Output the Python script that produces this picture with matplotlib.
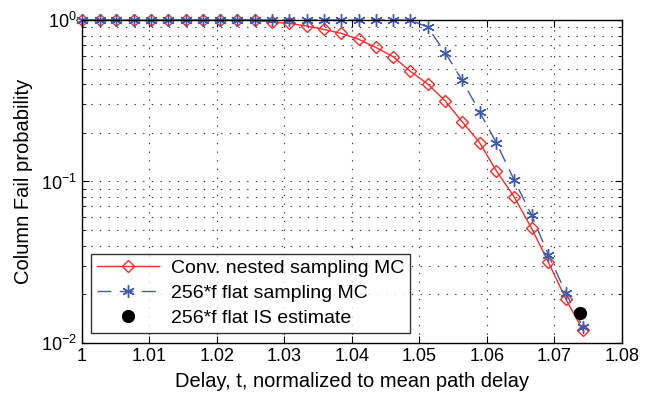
import matplotlib
matplotlib.use("Agg")
import matplotlib.pyplot as plt
from matplotlib.ticker import LogLocator, NullFormatter

plt.rcParams['font.family'] = ['Liberation Sans', 'DejaVu Sans']

# delay values, normalized to mean path delay
delay = [1.0000, 1.0026, 1.0051, 1.0077, 1.0102, 1.0128, 1.0154, 1.0179,
         1.0205, 1.0230, 1.0256, 1.0282, 1.0307, 1.0333, 1.0358, 1.0384,
         1.0410, 1.0435, 1.0461, 1.0486, 1.0512, 1.0538, 1.0563, 1.0589,
         1.0614, 1.0640, 1.0666, 1.0691, 1.0717, 1.0742]

# conventional nested sampling MC
p_nested = [1.0, 1.0, 1.0, 1.0, 1.0, 1.0, 1.0, 1.0, 1.0, 1.0, 1.0,
            0.968, 0.954, 0.918, 0.876, 0.827, 0.760, 0.678, 0.593, 0.483,
            0.402, 0.316, 0.235, 0.174, 0.116, 0.0806, 0.0513, 0.0316,
            0.0186, 0.0120]

# 256*f flat sampling MC
p_flat = [1.0, 1.0, 1.0, 1.0, 1.0, 1.0, 1.0, 1.0, 1.0, 1.0, 1.0, 1.0, 1.0,
          1.0, 1.0, 1.0, 1.0, 1.0, 1.0, 1.0,
          0.905, 0.629, 0.425, 0.270, 0.173, 0.1026, 0.0618, 0.0351,
          0.0203, 0.0125]

# importance sampling estimate
is_x = [1.0738]
is_p = [0.0153]

xticks = [1, 1.01, 1.02, 1.03, 1.04, 1.05, 1.06, 1.07, 1.08]
xtick_labels = ['1', '1.01', '1.02', '1.03', '1.04', '1.05', '1.06', '1.07', '1.08']

fig = plt.figure(figsize=(6.61, 4.01), dpi=100)
ax = fig.add_axes([0.124, 0.145, 0.817, 0.805])

red = '#ff2a2a'
blue = '#3f5aaa'

ax.plot(delay, p_nested, '-', color=red, lw=1.0, marker='D', ms=6.5,
        mfc='none', mec=red, mew=1.0, label='Conv. nested sampling MC', clip_on=False)
ax.plot(delay, p_flat, '--', color=blue, lw=1.0, marker=(6, 2, 0), ms=9,
        mec=blue, mew=1.0, dashes=(10, 6), label='256*f flat sampling MC', clip_on=False)
ax.plot(is_x, is_p, 'o', color='black', ms=8.5, label='256*f flat IS estimate')

ax.set_yscale('log')
ax.set_xlim(1, 1.08)
ax.set_ylim(1e-2, 1)
ax.set_xticks(xticks)
ax.set_xticklabels(xtick_labels)
ax.yaxis.set_major_locator(LogLocator(base=10))
ax.yaxis.set_minor_locator(LogLocator(base=10, subs=range(2, 10)))
ax.yaxis.set_minor_formatter(NullFormatter())

grid_style = dict(ls=(0, (1.2, 6.6)), color='black', lw=0.8, alpha=0.8)
ax.grid(True, which='major', **grid_style)
ax.grid(True, which='minor', axis='y', **grid_style)

ax.tick_params(which='both', direction='in', top=True, right=True, labelsize=13)
ax.tick_params(which='major', length=5)
ax.tick_params(which='minor', length=3)
for s in ax.spines.values():
    s.set_linewidth(1.0)

ax.set_xlabel('Delay, t, normalized to mean path delay', fontsize=14.5, labelpad=5)
ax.set_ylabel('Column Fail probability', fontsize=14.5, labelpad=6)

leg = ax.legend(loc='lower left', bbox_to_anchor=(0.017, 0.031), fontsize=14,
                handlelength=3.2, frameon=True, fancybox=False, edgecolor='black',
                borderpad=0.3, labelspacing=0.38, handletextpad=0.6, borderaxespad=0)
leg.get_frame().set_linewidth(1.0)

fig.savefig('out.png', dpi=100)
